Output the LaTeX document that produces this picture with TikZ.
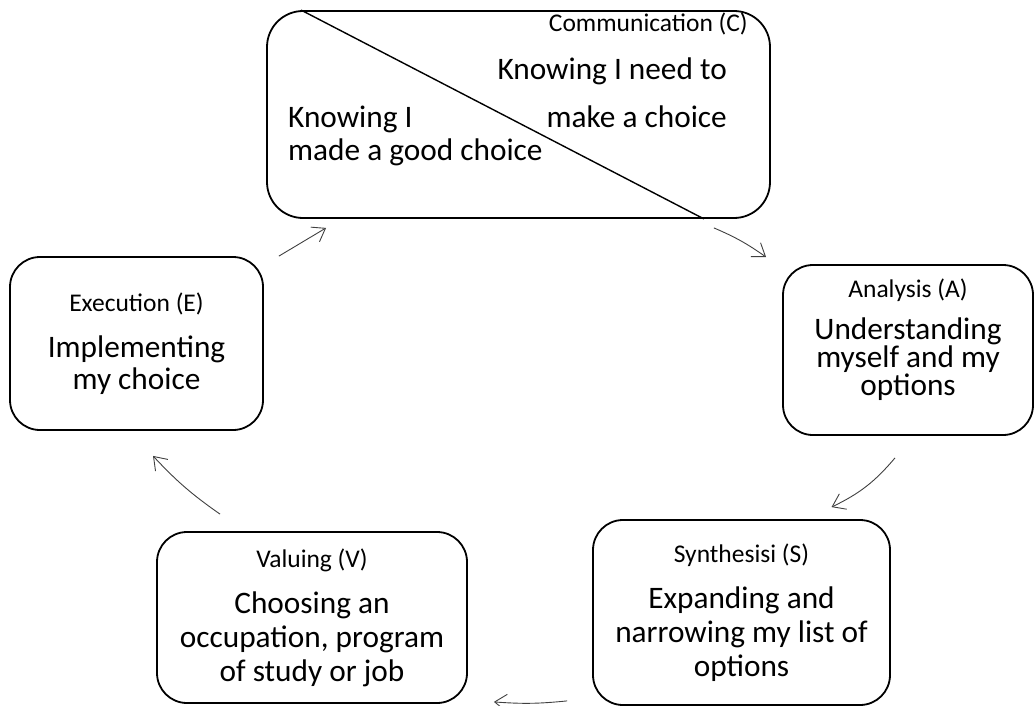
\documentclass[tikz,border=0pt]{standalone}
\usepackage{fontspec}
\setmainfont{Carlito}
\usepackage{tikz}
\usetikzlibrary{arrows.meta, positioning, calc}

\begin{document}
\begin{tikzpicture}[
    x=1pt, y=-1pt,
    stage/.style={draw, line width=1.8pt, rounded corners=30pt, align=center, inner sep=0pt, font=\fontsize{31.3}{#1}\selectfont},
    title/.style={font=\fontsize{25.5}{30}\selectfont, inner sep=0pt},
    body/.style={font=\fontsize{31.3}{36}\selectfont, inner sep=0pt},
    arr/.style={-{Straight Barb[length=12pt, width=17pt]}, draw=black!75, line width=0.9pt},
    >=Stealth
]
\useasboundingbox (0,0) rectangle (1035,706);

% Communication box, split by a diagonal
\node[stage=32, rounded corners=36pt, minimum width=503pt, minimum height=207pt] (C) at (518.5, 114.5) {};
\draw[line width=1.4pt] ([xshift=35pt]C.north west) -- ([xshift=-67pt]C.south east);
\node[title, anchor=base east] (cTitle) at (748, 32) {Communication (C)};
\node[body, anchor=base east] (cNeed) at (727, 80) {Knowing I need to};
\node[body, anchor=base east] (cMake) at (727, 128) {make a choice};
\node[body, anchor=base west] (cKnew) at (288, 128) {Knowing I};
\node[body, anchor=base west] (cGood) at (288, 160) {made a good choice};

% Other stages of the cycle
\node[stage=28, text depth=25pt, minimum width=250pt, minimum height=170pt] (A) at (908, 350)
    {{\fontsize{25.5}{30}\selectfont Analysis (A)}\\[14pt] Understanding\\ myself and my\\ options};
\node[stage=34, minimum width=297pt, minimum height=185pt] (S) at (741.5, 612.5)
    {{\fontsize{25.5}{30}\selectfont Synthesisi (S)}\\[12pt] Expanding and\\ narrowing my list of\\ options};
\node[stage=34, minimum width=310pt, minimum height=171pt] (V) at (312, 617.5)
    {{\fontsize{25.5}{30}\selectfont Valuing (V)}\\[12pt] Choosing an\\ occupation, program\\ of study or job};
\node[stage=32, minimum width=253pt, minimum height=173pt] (E) at (136.5, 343.5)
    {{\fontsize{25.5}{30}\selectfont Execution (E)}\\[14pt] Implementing\\ my choice};

% Cycle arrows
\draw[arr] ([xshift=-57pt, yshift=-9pt]C.south east) to[bend left=6] ([xshift=-16pt, yshift=7pt]A.north west);
\draw[arr] ([xshift=-13pt, yshift=-22pt]A.south) to[bend left=12] ([xshift=90pt, yshift=12pt]S.north);
\draw[arr] ([xshift=-25pt, yshift=5pt]S.south west) to[bend left=5] ([xshift=26pt, yshift=2pt]V.south east);
\draw[arr] ([xshift=-92pt, yshift=17pt]V.north) to[bend left=6] ([xshift=16.5pt, yshift=-25pt]E.south);
\draw[arr] ([xshift=15pt]E.north east) -- ([xshift=60pt, yshift=-9pt]C.south west);

\end{tikzpicture}
\end{document}
